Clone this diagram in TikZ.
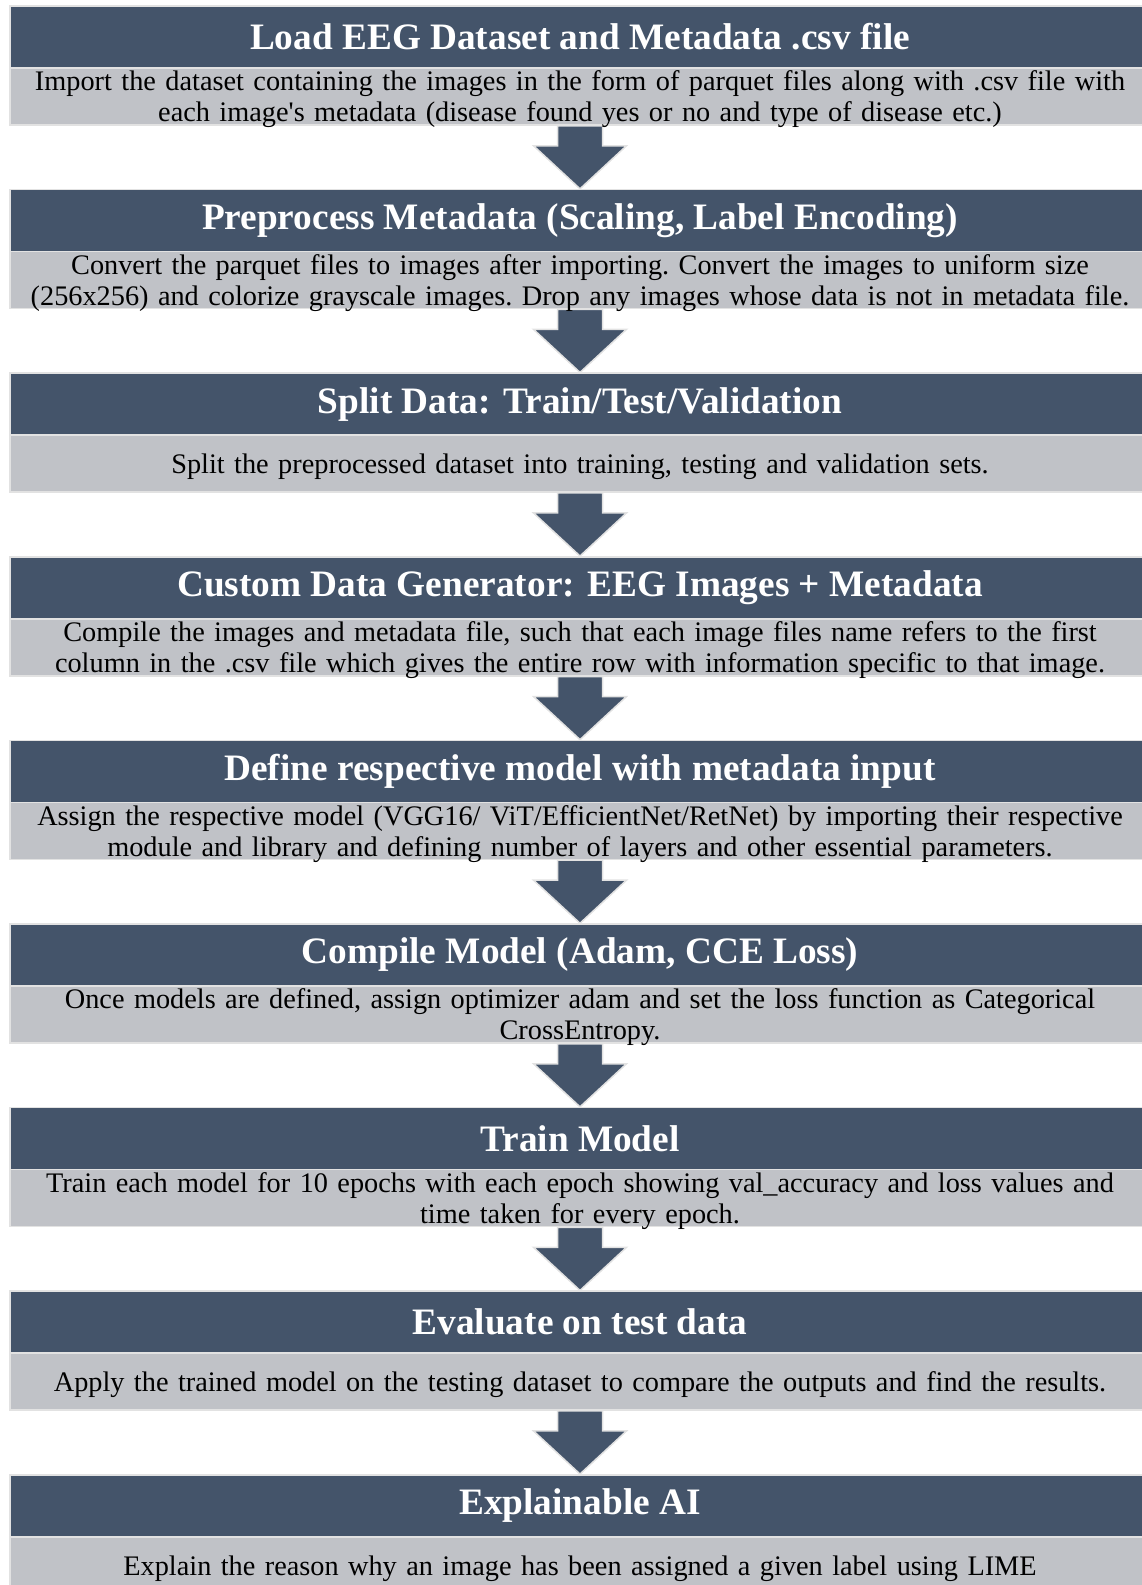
\documentclass[tikz,border=0pt]{standalone}
\usepackage{fontspec}
\setmainfont{Liberation Serif}
\usetikzlibrary{calc,backgrounds}
\definecolor{hdrblue}{HTML}{44546A}
\definecolor{bodygray}{HTML}{C0C2C7}
\definecolor{edgegray}{HTML}{E2E2E2}
\tikzset{
  hdr/.style={fill=hdrblue, draw=edgegray, line width=1.5pt,
    minimum width=1140pt, minimum height=62pt, inner sep=0pt,
    text=white, font=\fontsize{37.3}{40}\selectfont\bfseries},
  bodybox/.style={fill=bodygray, draw=edgegray, line width=1.5pt,
    minimum width=1140pt, minimum height=57pt, inner sep=0pt},
  bodytext/.style={inner sep=0pt, text width=1140pt, align=center,
    font=\fontsize{28.3}{31}\selectfont\frenchspacing},
  arrowshape/.style={fill=hdrblue, draw=edgegray, line width=1.5pt, line join=miter}
}
% one step: dark title bar over a grey description bar
\newcommand\flowblock[4]{%
  \node[hdr] (h#1) at (580,#2+31) {#3};
  \node[bodybox] (b#1) at (580,#2+90.5) {};
  \node[bodytext, yshift=-3pt] (t#1) at (b#1.center) {#4};
}
% block arrow from description #1 down to title #2
\newcommand\flowarrow[2]{%
  \draw[arrowshape] ($(b#1.south)+(-22.5,0)$) -- ++(0,20) -- ++(-24,0)
    -- (h#2.north) -- ($(b#1.south)+(46.5,20)$) -- ++(-24,0)
    -- ($(b#1.south)+(22.5,0)$) -- cycle;
}
\begin{document}
\begin{tikzpicture}[x=1pt,y=-1pt]
\useasboundingbox (0,0) rectangle (1142,1585);

\flowblock{1}{6}{Load EEG Dataset and Metadata .csv file}
  {Import the dataset containing the images in the form of parquet files along with .csv file with\\
   each image\textquotesingle s metadata (disease found yes or no and type of disease etc.)}
\flowblock{2}{189.6}{Preprocess Metadata (Scaling, Label Encoding)}
  {Convert the parquet files to images after importing. Convert the images to uniform size\\
   (256x256) and colorize grayscale images. Drop any images whose data is not in metadata file.}
\flowblock{3}{373.2}{Split Data: Train/Test/Validation}
  {Split the preprocessed dataset into training, testing and validation sets.}
\flowblock{4}{556.8}{Custom Data Generator: EEG Images + Metadata}
  {Compile the images and metadata file, such that each image files name refers to the first\\
   column in the .csv file which gives the entire row with information specific to that image.}
\flowblock{5}{740.4}{Define respective model with metadata input}
  {Assign the respective model (VGG16/ ViT/EfficientNet/RetNet) by importing their respective\\
   module and library and defining number of layers and other essential parameters.}
\flowblock{6}{924}{Compile Model (Adam, CCE Loss)}
  {Once models are defined, assign optimizer adam and set the loss function as Categorical\\
   CrossEntropy.}
\flowblock{7}{1107.6}{Train Model}
  {Train each model for 10 epochs with each epoch showing val\_accuracy and loss values and\\
   time taken for every epoch.}
\flowblock{8}{1291.2}{Evaluate on test data}
  {Apply the trained model on the testing dataset to compare the outputs and find the results.}
\flowblock{9}{1474.8}{Explainable AI}
  {Explain the reason why an image has been assigned a given label using LIME}

\begin{scope}[on background layer]
  \flowarrow{1}{2}
  \flowarrow{2}{3}
  \flowarrow{3}{4}
  \flowarrow{4}{5}
  \flowarrow{5}{6}
  \flowarrow{6}{7}
  \flowarrow{7}{8}
  \flowarrow{8}{9}
\end{scope}
\end{tikzpicture}
\end{document}
